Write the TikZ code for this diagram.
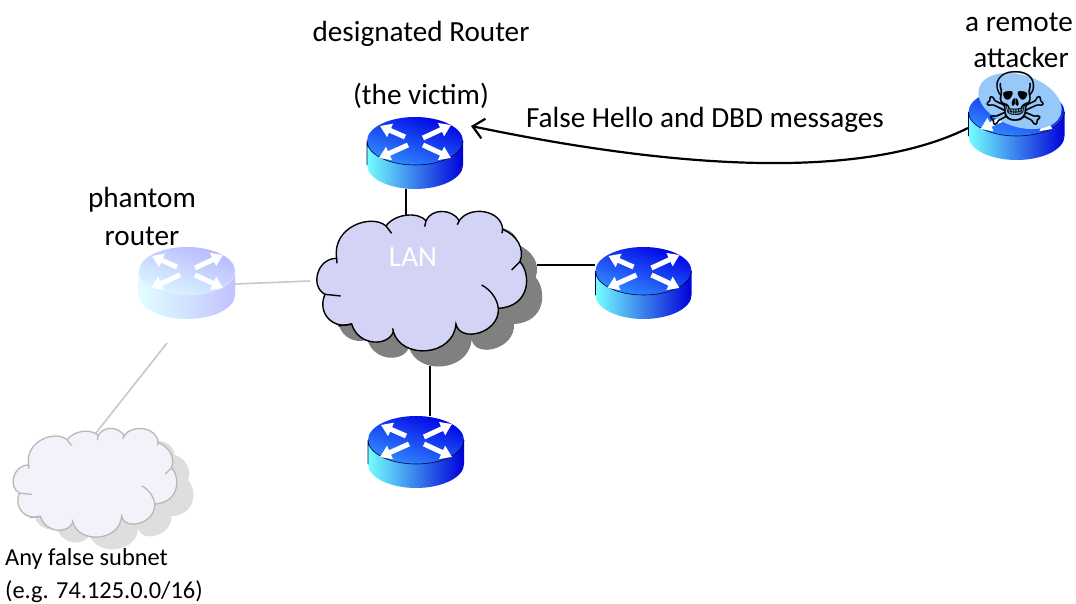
\documentclass[tikz,border=0pt]{standalone}
\usepackage{fontspec}
\setmainfont{Carlito}
\newfontfamily\symfont{DejaVu Sans}
\usetikzlibrary{arrows.meta}
\definecolor{cloudfill}{RGB}{211,211,245}
\definecolor{subfill}{RGB}{242,242,251}
\definecolor{phline}{RGB}{200,200,200}
\definecolor{skullblue}{RGB}{150,200,250}
\definecolor{shadowgray}{RGB}{128,128,128}
\tikzset{
  lbl/.style={font=\fontsize{29.2}{30}\selectfont,text=black,inner sep=0pt},
  smalllbl/.style={font=\fontsize{24.4}{25}\selectfont,text=black,inner sep=0pt,anchor=west},
  wire/.style={line width=1.4pt,black},
  ghostwire/.style={line width=1.6pt,phline},
  rarrow/.style={white,line width=5pt,-{Triangle[length=11pt,width=14pt]}},
  anchorbox/.style={inner sep=0pt,minimum width=96pt,minimum height=72pt}
}
% args: name, x, y, top dark, top light, side light, side dark, edge
\newcommand{\routerpic}[8]{%
  \begin{scope}[shift={(#2,#3)}]
    \path[left color=#6,right color=#7,draw=none]
      (-48,0) -- (-48,24) arc[start angle=180,end angle=0,x radius=48pt,y radius=24pt] -- (48,0) -- cycle;
    \path[left color=#4,right color=#5,shading angle=-20,draw=none]
      (0,0) ellipse[x radius=48pt,y radius=24pt];
    \draw[#8,line width=0.6pt] (-48,24) -- (-48,0) arc[start angle=180,end angle=0,x radius=48pt,y radius=24pt];
    \draw[rarrow] (-10,-4) -- (-35,-15);
    \draw[rarrow] (8,-3) -- (36,-16);
    \draw[rarrow] (-7,4) -- (-36,17);
    \draw[rarrow] (8,4) -- (36,17);
  \end{scope}
  \node[anchorbox] (#1) at (#2,#3+12) {};
}
\newcommand{\cloudpath}{(258,78)
  .. controls (285,40) and (355,35) .. (378,62)
  .. controls (395,25) and (455,25) .. (478,62)
  .. controls (510,15) and (605,30) .. (608,88)
  .. controls (650,105) and (675,145) .. (660,185)
  .. controls (695,225) and (690,320) .. (595,325)
  .. controls (600,400) and (480,430) .. (468,372)
  .. controls (460,470) and (305,480) .. (280,395)
  .. controls (265,440) and (175,440) .. (155,372)
  .. controls (100,390) and (50,340) .. (75,283)
  .. controls (30,260) and (50,175) .. (110,175)
  .. controls (95,80) and (215,40) .. (258,78) -- cycle}
\newcommand{\cloudtails}{(258,78) -- (275,100) (378,62) -- (374,80) (478,62) -- (472,74)
  (608,88) -- (606,100) (660,185) -- (635,210) (595,325) .. controls (592,295) and (570,268) .. (545,255)
  (280,395) -- (278,385) (155,372) -- (115,378) (75,283) -- (122,288) (110,175) -- (111,190)}
\begin{document}
\begin{tikzpicture}[x=1pt,y=1pt,yscale=-1]
\useasboundingbox (0,0) rectangle (1076,604);
% anchors
\coordinate (lantop) at (406,217);
\coordinate (lanright) at (537,265);
\coordinate (lanbottom) at (430,366);
\coordinate (lanleft) at (310,281);
\coordinate (dra) at (406,189);
\coordinate (ra) at (595,265);
\coordinate (ba) at (430,416);
\coordinate (pha) at (235,284);
\coordinate (phb) at (167,343);
\coordinate (subtop) at (96,433);
\coordinate (atkstart) at (968,128);
\coordinate (drtip) at (471,126);
% connectors
\draw[wire] (dra) -- (lantop);
\draw[wire] (lanright) -- (ra);
\draw[wire] (lanbottom) -- (ba);
\draw[ghostwire] (pha) -- (lanleft);
\draw[ghostwire] (phb) -- (subtop);
% LAN cloud
\begin{scope}[shift={(300,200)},scale=0.3333]
  \fill[shadowgray,shift={(47,47)}] \cloudpath;
  \filldraw[fill=cloudfill,draw=black,line width=1.4pt] \cloudpath;
  \draw[black,line width=1.4pt] \cloudtails;
\end{scope}
% subnet cloud
\begin{scope}[shift={(0,419.5)},scale=0.26]
  \fill[black!13,shift={(64,47)}] \cloudpath;
  \filldraw[fill=subfill,draw=black!28,line width=1.3pt] \cloudpath;
  \draw[black!28,line width=1.3pt] \cloudtails;
\end{scope}
% routers
\routerpic{dr}{415}{141}{blue!90!black}{blue!55!cyan!80!white}{cyan!55!white}{blue!85!black}{black!70!blue}
\routerpic{rr}{643.5}{271}{blue!90!black}{blue!55!cyan!80!white}{cyan!55!white}{blue!85!black}{black!70!blue}
\routerpic{br}{416}{440}{blue!90!black}{blue!55!cyan!80!white}{cyan!55!white}{blue!85!black}{black!70!blue}
\routerpic{ph}{187}{271}{blue!28!white}{blue!18!cyan!14!white}{cyan!12!white}{blue!24!white}{blue!10!white}
\routerpic{atk}{1016.5}{112}{blue!90!black}{blue!55!cyan!80!white}{cyan!55!white}{blue!85!black}{black!70!blue}
% attacker overlay
\fill[skullblue,rotate around={18:(1020,101)}] (1020,101) ellipse[x radius=43pt,y radius=26pt];
\node[inner sep=0pt,font=\symfont\fontsize{74}{74}\selectfont,text=black] (skull) at (1016,98) {☠};
% attack arrow
\draw[black,line width=2.2pt,-{Straight Barb[length=11pt,width=20pt]}] (atkstart) .. controls (880,172) and (720,178) .. (drtip);
% labels
\node[lbl] (t1) at (421,34) {designated Router};
\node[lbl] (t2) at (421,96) {(the victim)};
\node[lbl] (t3) at (705,120) {False Hello and DBD messages};
\node[lbl] (t4) at (1019,22) {a remote};
\node[lbl] (t5) at (1021,57) {attacker};
\node[lbl] (t6) at (142,200) {phantom};
\node[lbl] (t7) at (142,236) {router};
\node[lbl,text=white] (t8) at (413,257) {LAN};
\node[smalllbl] (t9) at (5,559) {Any false subnet};
\node[smalllbl] (t10) at (5,592) {(e.g. 74.125.0.0/16)};
\end{tikzpicture}
\end{document}
